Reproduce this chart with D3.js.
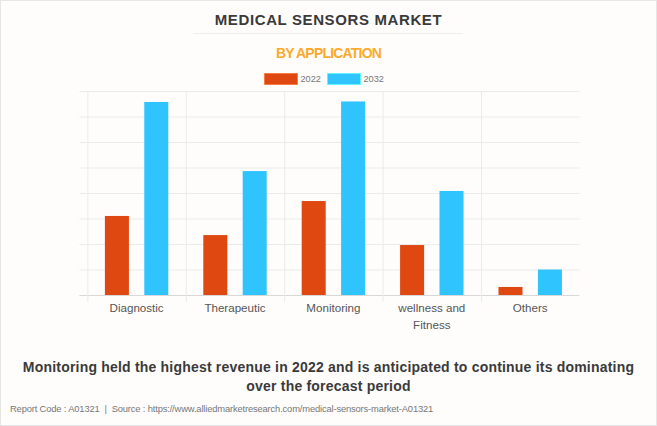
<!DOCTYPE html>
<html>
<head>
<meta charset="utf-8">
<script src="https://cdn.jsdelivr.net/npm/d3@7"></script>
<style>
  html, body { margin: 0; padding: 0; background: #fff; }
  svg { display: block; font-family: "Liberation Sans", Arial, sans-serif; }
</style>
</head>
<body>
<svg id="chart" width="657" height="426"></svg>
<script>
// values (y axis has no labels, so units are arbitrary)
const categories = ['Diagnostic', 'Therapeutic', 'Monitoring', 'wellness and|Fitness', 'Others'];
const seriesNames = ['2022', '2032'];
const values2022 = [620, 470, 737, 392, 63];
const values2032 = [1514, 972, 1518, 816, 200];
const yTicks = [0, 200, 400, 600, 800, 1000, 1200, 1400, 1600];
const colors = ['#e04812', '#30c4ff'];

const width = 657, height = 426;
const plot = { left: 87.4, right: 579.4, top: 91, bottom: 295 };
const gridColor = '#ebebeb';

const svg = d3.select('#chart');

// card background and border
svg.append('rect').attr('width', width).attr('height', height).attr('fill', '#fefdfc');
svg.append('rect').attr('x', 0.5).attr('y', 0.5).attr('width', width - 1).attr('height', height - 1)
    .attr('fill', 'none').attr('stroke', '#e6e6e6');

svg.append('text').attr('x', 328.5).attr('y', 25).attr('text-anchor', 'middle')
    .attr('font-size', 15).attr('font-weight', 'bold').attr('letter-spacing', 0.62).attr('fill', '#3a3a3a')
    .text('MEDICAL SENSORS MARKET');
svg.append('line').attr('x1', 193).attr('x2', 463).attr('y1', 33.5).attr('y2', 33.5)
    .attr('stroke', '#eeeeee');
svg.append('text').attr('x', 328.5).attr('y', 58).attr('text-anchor', 'middle')
    .attr('font-size', 14).attr('font-weight', 'bold').attr('letter-spacing', -0.8).attr('fill', '#fbaa2b')
    .text('BY APPLICATION');

// legend
const legendX = [264.5, 327.5];
seriesNames.forEach((name, i) => {
    svg.append('rect').attr('x', legendX[i]).attr('y', 73.5).attr('width', 33).attr('height', 11)
        .attr('fill', colors[i]).attr('stroke', d3.color(colors[i]).brighter(0.8)).attr('stroke-opacity', 0.6);
    svg.append('text').attr('x', legendX[i] + 36).attr('y', 81.5)
        .attr('font-size', 9.2).attr('fill', '#777').text(name);
});

// scales
const x = d3.scaleBand().domain(categories).range([plot.left, plot.right]);
const inner = d3.scaleBand().domain(seriesNames).range([0, x.step()])
    .paddingInner(0.39).paddingOuter(0.444);
const y = d3.scaleLinear().domain([0, 1600]).range([plot.bottom, plot.top]);

// grid drawn with the axes
const yAxis = svg.append('g').attr('transform', `translate(${plot.left},0)`)
    .call(d3.axisLeft(y).tickValues(yTicks).tickFormat('').tickSize(8));
yAxis.select('.domain').remove();
yAxis.selectAll('.tick line').attr('stroke', gridColor);
yAxis.selectAll('.tick').append('line')
    .attr('x1', 0).attr('x2', plot.right - plot.left).attr('stroke', gridColor);
yAxis.selectAll('.tick').filter(d => d === 0).selectAll('line').attr('stroke', '#d8d8d8');

const vertical = categories.map(c => x(c));
svg.selectAll('.vgrid').data(vertical).join('line').attr('class', 'vgrid')
    .attr('x1', d => d + 0.5).attr('x2', d => d + 0.5)
    .attr('y1', plot.top).attr('y2', plot.bottom + 7)
    .attr('stroke', gridColor);

// bars
[values2022, values2032].forEach((vals, s) => {
    svg.append('g').selectAll('rect').data(vals).join('rect')
        .attr('x', (d, i) => x(categories[i]) + inner(seriesNames[s]))
        .attr('width', inner.bandwidth())
        .attr('y', d => y(d))
        .attr('height', d => y(0) - y(d))
        .attr('fill', colors[s]);
});

// category labels, "|" marks a line break
const xAxis = svg.append('g').attr('transform', `translate(0,${plot.bottom})`)
    .call(d3.axisBottom(x).tickSize(0).tickPadding(0).tickFormat(''));
xAxis.select('.domain').remove();
xAxis.selectAll('.tick text').remove();
xAxis.selectAll('.tick').each(function (d) {
    const t = d3.select(this).append('text').attr('text-anchor', 'middle')
        .attr('font-size', 11.6).attr('fill', '#555');
    d.split('|').forEach((part, i) => {
        t.append('tspan').attr('x', 0).attr('y', 17 + i * 17).text(part);
    });
});

// takeaway and footer
const takeaway = ['Monitoring held the highest revenue in 2022 and is anticipated to continue its dominating',
    'over the forecast period'];
svg.selectAll('.takeaway').data(takeaway).join('text').attr('class', 'takeaway')
    .attr('x', 328.5).attr('y', (d, i) => 372 + i * 18.5).attr('text-anchor', 'middle')
    .attr('font-size', 14).attr('font-weight', 'bold').attr('letter-spacing', 0.2).attr('fill', '#3a3a3a')
    .text(d => d);
svg.append('text').attr('x', 10).attr('y', 412).attr('font-size', 9.4).attr('letter-spacing', -0.16)
    .attr('fill', '#777').style('white-space', 'pre')
    .text('Report Code : A01321  |  Source : https://www.alliedmarketresearch.com/medical-sensors-market-A01321');
</script>
</body>
</html>
